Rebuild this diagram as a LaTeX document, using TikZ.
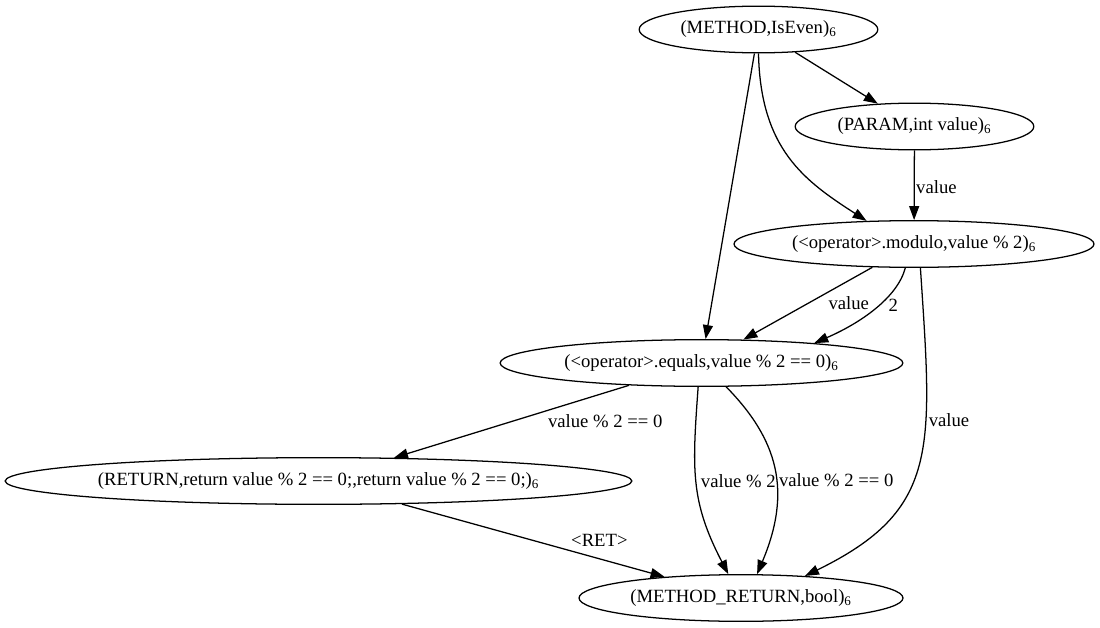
\documentclass[tikz,border=0pt]{standalone}
\usepackage{fontspec}
\setmainfont{Liberation Serif}
\usepackage{tikz}
\usetikzlibrary{shapes.geometric, arrows.meta}

\begin{document}
\begin{tikzpicture}[x=0.75pt,y=-0.75pt,>={Triangle[length=10.5pt,width=7.5pt]},line width=0.95pt,
                    cpg/.style={ellipse, draw, inner sep=0pt, minimum height=35pt, font=\fontsize{14}{16}\selectfont},
                    lab/.style={inner sep=0pt, anchor=west, font=\fontsize{14}{16}\selectfont}]
                        \useasboundingbox (0,0) rectangle (1100,628);
                        \node[cpg, minimum width=179pt] (method)  at (758.5,29.5) {(METHOD,IsEven)\textsubscript{6}};
                        \node[cpg, minimum width=179pt] (param)   at (914.5,126.5) {(PARAM,int value)\textsubscript{6}};
                        \node[cpg, minimum width=270pt] (modulo)  at (914,244)    {(<operator>.modulo,value \% 2)\textsubscript{6}};
                        \node[cpg, minimum width=302pt] (equals)  at (701.5,363)  {(<operator>.equals,value \% 2 == 0)\textsubscript{6}};
                        \node[cpg, minimum width=470pt] (return)  at (318.5,481)  {(RETURN,return value \% 2 == 0;,return value \% 2 == 0;)\textsubscript{6}};
                        \node[cpg, minimum width=243pt] (mreturn) at (741,598)    {(METHOD\_RETURN,bool)\textsubscript{6}};
                        \path[->] (method) edge                                                    (param);
                        \path[->] (method) edge                                                    (equals);
                        \draw[->] (method.south) .. controls +(2,96) and +(-62,-40) ..             (modulo.154);
                        \path[->] (param)  edge node[lab, pos=0.52, xshift=1pt]  {value}           (modulo);
                        \path[->] (modulo) edge node[lab, pos=0.5, xshift=15pt]  {value}           (equals);
                        \draw[->] (modulo.250) .. controls +(-8,30) and +(46,-20) ..
                                  node[lab, pos=0.45, xshift=7pt] {2}                              (equals.10);
                        \draw[->] (modulo.-75) .. controls +(12,182) and +(135,-66) ..
                                  node[lab, pos=0.35, xshift=2pt] {value}                          (mreturn.19);
                        \path[->] (equals) edge node[lab, pos=0.5, xshift=27pt]  {value \% 2 == 0} (return);
                        \draw[->] (equals.-98) .. controls +(-6,83) and +(-38,-73) ..
                                  node[lab, pos=0.48, xshift=3pt] {value \% 2}                     (mreturn.118);
                        \draw[->] (equals.-44) .. controls +(52,53) and +(35,-83) ..
                                  node[lab, pos=0.56, xshift=2pt] {value \% 2 == 0}                (mreturn.56);
                        \path[->] (return) edge node[lab, pos=0.5, xshift=28pt]  {<RET>}           (mreturn);
\end{tikzpicture}
\end{document}
